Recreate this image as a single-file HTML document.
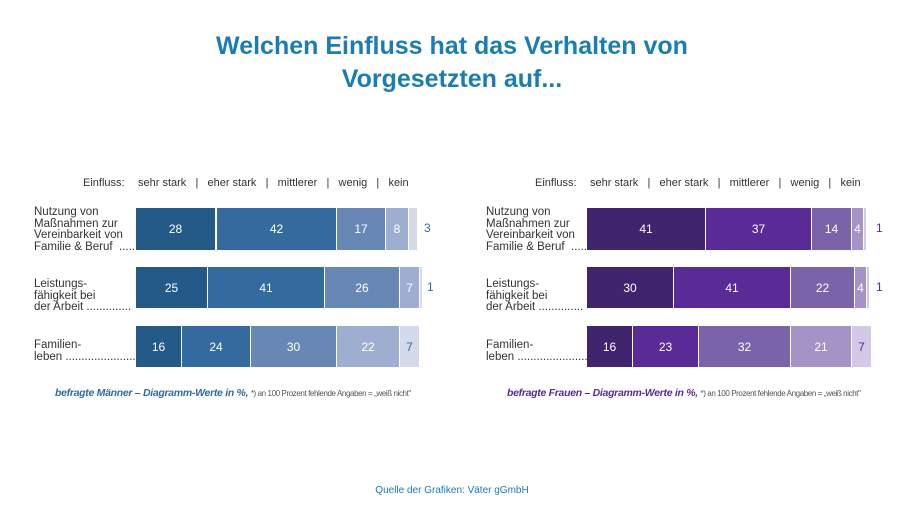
<!DOCTYPE html>
<html><head><meta charset="utf-8"><style>
body{margin:0;width:904px;height:509px;background:#fff;position:relative;overflow:hidden;font-family:"Liberation Sans",sans-serif}
.a{position:absolute;white-space:nowrap}
.t{left:0;width:904px;text-align:center;color:#1a7db3;font-weight:bold;font-size:25px}
.h{font-size:11px;color:#333;top:177px}
.l{font-size:11.5px;color:#333;line-height:11.5px}
.b{position:absolute;color:#fff;font-size:12px;display:flex;align-items:center;justify-content:center}
.f{font-size:10.5px;top:387px;font-weight:bold;font-style:italic;letter-spacing:-0.3px}
.f span{font-weight:normal;font-style:normal;font-size:8px;color:#555;letter-spacing:-0.4px}
</style></head><body>
<div class="a t" style="top:32px">Welchen Einfluss hat das Verhalten von</div>
<div class="a t" style="top:65px">Vorgesetzten auf...</div>

<div class="a h" style="left:83px">Einfluss:</div>
<div class="a h" style="left:138px">sehr stark &nbsp;&nbsp;| &nbsp;&nbsp;eher stark &nbsp;&nbsp;| &nbsp;&nbsp;mittlerer &nbsp;&nbsp;| &nbsp;&nbsp;wenig &nbsp;&nbsp;| &nbsp;&nbsp;kein</div>
<div class="a h" style="left:535px">Einfluss:</div>
<div class="a h" style="left:590px">sehr stark &nbsp;&nbsp;| &nbsp;&nbsp;eher stark &nbsp;&nbsp;| &nbsp;&nbsp;mittlerer &nbsp;&nbsp;| &nbsp;&nbsp;wenig &nbsp;&nbsp;| &nbsp;&nbsp;kein</div>

<div class="a l" style="left:34px;top:207px">Nutzung von<br>Maßnahmen zur<br>Vereinbarkeit von<br>Familie &amp; Beruf &nbsp;......</div>
<div class="a l" style="left:34px;top:279px">Leistungs-<br>fähigkeit bei<br>der Arbeit ..............</div>
<div class="a l" style="left:34px;top:340px">Familien-<br>leben ......................</div>
<div class="a l" style="left:486px;top:207px">Nutzung von<br>Maßnahmen zur<br>Vereinbarkeit von<br>Familie &amp; Beruf &nbsp;......</div>
<div class="a l" style="left:486px;top:279px">Leistungs-<br>fähigkeit bei<br>der Arbeit ..............</div>
<div class="a l" style="left:486px;top:340px">Familien-<br>leben ......................</div>

<!-- Men -->
<div class="b" style="left:136px;top:208px;width:79px;height:42px;background:#245a87">28</div>
<div class="b" style="left:217px;top:208px;width:119px;height:42px;background:#336b9e">42</div>
<div class="b" style="left:337px;top:208px;width:48px;height:42px;background:#6788b5">17</div>
<div class="b" style="left:386px;top:208px;width:22px;height:42px;background:#9eaed0">8</div>
<div class="b" style="left:409px;top:208px;width:8px;height:42px;background:#d4daea"></div>
<div class="a" style="left:424px;top:221px;font-size:12px;color:#336b9e">3</div>

<div class="b" style="left:136px;top:267px;width:71px;height:41px;background:#245a87">25</div>
<div class="b" style="left:208px;top:267px;width:116px;height:41px;background:#336b9e">41</div>
<div class="b" style="left:325px;top:267px;width:74px;height:41px;background:#6788b5">26</div>
<div class="b" style="left:400px;top:267px;width:19px;height:41px;background:#9eaed0">7</div>
<div class="b" style="left:420px;top:267px;width:2px;height:41px;background:#d4daea"></div>
<div class="a" style="left:427px;top:280px;font-size:12px;color:#336b9e">1</div>

<div class="b" style="left:136px;top:326px;width:45px;height:41px;background:#245a87">16</div>
<div class="b" style="left:182px;top:326px;width:68px;height:41px;background:#336b9e">24</div>
<div class="b" style="left:251px;top:326px;width:85px;height:41px;background:#6788b5">30</div>
<div class="b" style="left:337px;top:326px;width:62px;height:41px;background:#9eaed0">22</div>
<div class="b" style="left:400px;top:326px;width:19px;height:41px;background:#d4daea;color:#336b9e">7</div>

<!-- Women -->
<div class="b" style="left:587px;top:208px;width:118px;height:42px;background:#40256e">41</div>
<div class="b" style="left:706px;top:208px;width:105px;height:42px;background:#5a2b97">37</div>
<div class="b" style="left:812px;top:208px;width:39px;height:42px;background:#7b63a9">14</div>
<div class="b" style="left:852px;top:208px;width:11px;height:42px;background:#a592c6">4</div>
<div class="b" style="left:864px;top:208px;width:2px;height:42px;background:#d2c9e6"></div>
<div class="a" style="left:876px;top:221px;font-size:12px;color:#5a2b97">1</div>

<div class="b" style="left:587px;top:267px;width:86px;height:41px;background:#40256e">30</div>
<div class="b" style="left:674px;top:267px;width:116px;height:41px;background:#5a2b97">41</div>
<div class="b" style="left:791px;top:267px;width:63px;height:41px;background:#7b63a9">22</div>
<div class="b" style="left:855px;top:267px;width:11px;height:41px;background:#a592c6">4</div>
<div class="b" style="left:867px;top:267px;width:2px;height:41px;background:#d2c9e6"></div>
<div class="a" style="left:876px;top:280px;font-size:12px;color:#5a2b97">1</div>

<div class="b" style="left:587px;top:326px;width:45px;height:41px;background:#40256e">16</div>
<div class="b" style="left:633px;top:326px;width:65px;height:41px;background:#5a2b97">23</div>
<div class="b" style="left:699px;top:326px;width:91px;height:41px;background:#7b63a9">32</div>
<div class="b" style="left:791px;top:326px;width:60px;height:41px;background:#a592c6">21</div>
<div class="b" style="left:852px;top:326px;width:19px;height:41px;background:#d2c9e6;color:#5a2b97">7</div>

<div class="a f" style="left:55px;color:#336b9e">befragte Männer – Diagramm-Werte in %, <span>*) an 100 Prozent fehlende Angaben = „weiß nicht"</span></div>
<div class="a f" style="left:507px;color:#5a2b97">befragte Frauen – Diagramm-Werte in %, <span>*) an 100 Prozent fehlende Angaben = „weiß nicht"</span></div>

<div class="a" style="left:0;width:904px;text-align:center;top:485px;font-size:10px;color:#1a7db3">Quelle der Grafiken: Väter gGmbH</div>
</body></html>
